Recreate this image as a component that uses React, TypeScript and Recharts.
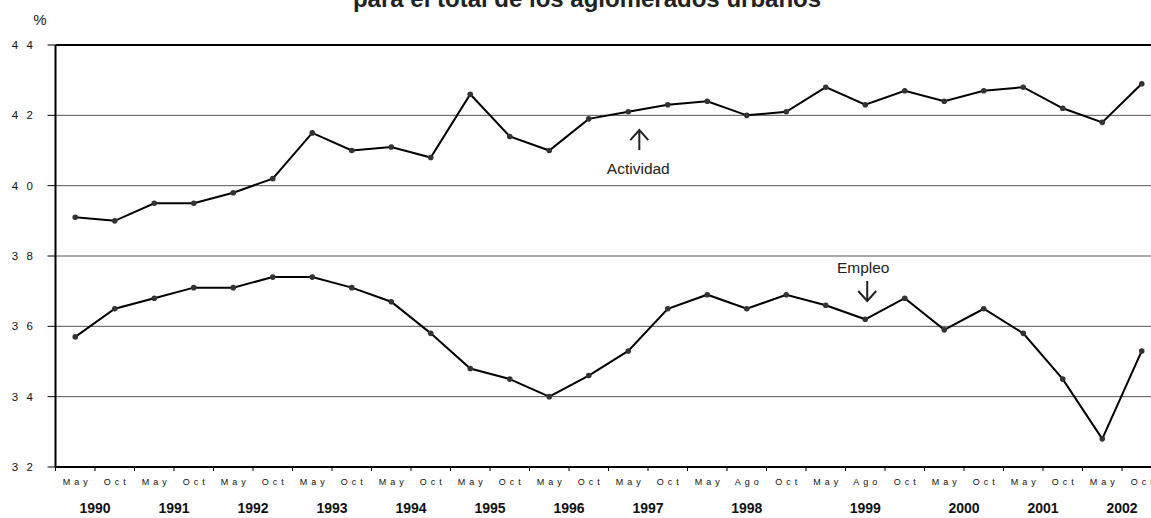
import { LineChart, Line, XAxis, YAxis, CartesianGrid, ReferenceLine, ReferenceDot } from "recharts";

// survey waves (EPH): May / Oct, plus Ago in 1998-1999
const months = [
  "May", "Oct", "May", "Oct", "May", "Oct", "May", "Oct", "May", "Oct",
  "May", "Oct", "May", "Oct", "May", "Oct", "May", "Ago", "Oct", "May",
  "Ago", "Oct", "May", "Oct", "May", "Oct", "May", "Oct",
];
const years = [
  1990, 1990, 1991, 1991, 1992, 1992, 1993, 1993, 1994, 1994,
  1995, 1995, 1996, 1996, 1997, 1997, 1998, 1998, 1998, 1999,
  1999, 1999, 2000, 2000, 2001, 2001, 2002, 2002,
];
const actividad = [
  39.1, 39.0, 39.5, 39.5, 39.8, 40.2, 41.5, 41.0, 41.1, 40.8,
  42.6, 41.4, 41.0, 41.9, 42.1, 42.3, 42.4, 42.0, 42.1, 42.8,
  42.3, 42.7, 42.4, 42.7, 42.8, 42.2, 41.8, 42.9,
];
const empleo = [
  35.7, 36.5, 36.8, 37.1, 37.1, 37.4, 37.4, 37.1, 36.7, 35.8,
  34.8, 34.5, 34.0, 34.6, 35.3, 36.5, 36.9, 36.5, 36.9, 36.6,
  36.2, 36.8, 35.9, 36.5, 35.8, 34.5, 32.8, 35.3,
];
const yTicks = [32, 34, 36, 38, 40, 42, 44];

const data = months.map((m, i) => ({
  x: i + 0.5,
  month: m,
  year: years[i],
  actividad: actividad[i],
  empleo: empleo[i],
}));

const boundaryTicks = Array.from({ length: months.length + 1 }, (_, i) => i);
const monthTicks = data.map((d) => d.x);
const yearLabels = Array.from(new Set(years));
// each year label sits in the middle of its own survey waves
const yearTicks = yearLabels.map((y) => {
  const rows = data.filter((d) => d.year === y);
  return rows.reduce((s, d) => s + d.x, 0) / rows.length;
});

const FONT = "'Liberation Sans', Arial, sans-serif";

const YTick = ({ x, y, payload }: any) => (
  <text x={x} y={y} dy={4} textAnchor="end" fontSize={11.5} letterSpacing={8.5} fill="#111" fontFamily={FONT}>
    {payload.value}
  </text>
);

const MonthTick = ({ x, y, payload }: any) => (
  <text x={x + 2} y={y} dy={12.5} textAnchor="middle" fontSize={9} letterSpacing={4} fill="#111" fontFamily={FONT}>
    {months[Math.floor(payload.value)]}
  </text>
);

const YearTick = ({ x, y, payload }: any) => {
  const i = yearTicks.findIndex((t) => Math.abs(t - payload.value) < 1e-6);
  return (
    <text x={x} y={y} dy={19} textAnchor="middle" fontSize={14} fontWeight="bold" fill="#111" fontFamily={FONT}>
      {yearLabels[i]}
    </text>
  );
};

const NoTick = () => <g />;

const ArrowUp = ({ cx, cy }: any) => (
  <g>
    <line x1={cx} y1={cy} x2={cx} y2={cy + 20} stroke="#222" strokeWidth={2} />
    <polyline points={`${cx - 9},${cy + 10} ${cx},${cy} ${cx + 9},${cy + 10}`} fill="none" stroke="#222" strokeWidth={2} />
    <text x={cx - 1} y={cy + 44} textAnchor="middle" fontSize={15.5} fill="#222" fontFamily={FONT}>
      Actividad
    </text>
  </g>
);

const ArrowDown = ({ cx, cy }: any) => (
  <g>
    <line x1={cx} y1={cy - 20} x2={cx} y2={cy} stroke="#222" strokeWidth={2} />
    <polyline points={`${cx - 9},${cy - 10} ${cx},${cy} ${cx + 9},${cy - 10}`} fill="none" stroke="#222" strokeWidth={2} />
    <text x={cx - 4} y={cy - 28} textAnchor="middle" fontSize={15.5} fill="#222" fontFamily={FONT}>
      Empleo
    </text>
  </g>
);

const dot = { r: 2.8, fill: "#333", stroke: "#333", strokeWidth: 0 };

export default function App() {
  return (
    <div style={{ position: "absolute", left: 0, top: 0, width: 1151, height: 518, overflow: "hidden", background: "#fff" }}>
      <LineChart width={1170} height={518} data={data} margin={{ top: 45, right: 8.5, bottom: 0, left: 0 }}>
        <text x={587} y={7} textAnchor="middle" fontSize={24} fontWeight="bold" fill="#222" fontFamily={FONT}>
          para el total de los aglomerados urbanos
        </text>
        <text x={40} y={25} textAnchor="middle" fontSize={15} fill="#222" fontFamily={FONT}>
          %
        </text>
        <CartesianGrid xAxisId="main" vertical={false} stroke="#555" strokeWidth={1} />
        <XAxis
          xAxisId="main"
          type="number"
          dataKey="x"
          domain={[0, months.length]}
          ticks={boundaryTicks}
          interval={0}
          height={5}
          tickSize={4}
          tick={NoTick}
          tickLine={{ stroke: "#000", strokeWidth: 1 }}
          axisLine={{ stroke: "#000", strokeWidth: 2 }}
        />
        <XAxis
          xAxisId="months"
          type="number"
          dataKey="x"
          domain={[0, months.length]}
          ticks={monthTicks}
          interval={0}
          height={22}
          tickSize={0}
          tickMargin={0}
          tick={MonthTick}
          tickLine={false}
          axisLine={false}
        />
        <XAxis
          xAxisId="years"
          type="number"
          dataKey="x"
          domain={[0, months.length]}
          ticks={yearTicks}
          interval={0}
          height={24}
          tickSize={0}
          tickMargin={0}
          tick={YearTick}
          tickLine={false}
          axisLine={false}
        />
        <YAxis
          domain={[32, 44]}
          ticks={yTicks}
          interval={0}
          width={55.5}
          tickSize={8}
          tickMargin={6}
          tick={YTick}
          tickLine={{ stroke: "#000", strokeWidth: 1 }}
          axisLine={{ stroke: "#000", strokeWidth: 2 }}
        />
        <ReferenceLine xAxisId="main" y={44} stroke="#000" strokeWidth={2} />
        <Line xAxisId="main" type="linear" dataKey="actividad" stroke="#000" strokeWidth={2} dot={dot} activeDot={false} isAnimationActive={false} />
        <Line xAxisId="main" type="linear" dataKey="empleo" stroke="#000" strokeWidth={2} dot={dot} activeDot={false} isAnimationActive={false} />
        <ReferenceDot xAxisId="main" x={14.78} y={41.58} r={0} shape={ArrowUp} />
        <ReferenceDot xAxisId="main" x={20.55} y={36.72} r={0} shape={ArrowDown} />
      </LineChart>
    </div>
  );
}
